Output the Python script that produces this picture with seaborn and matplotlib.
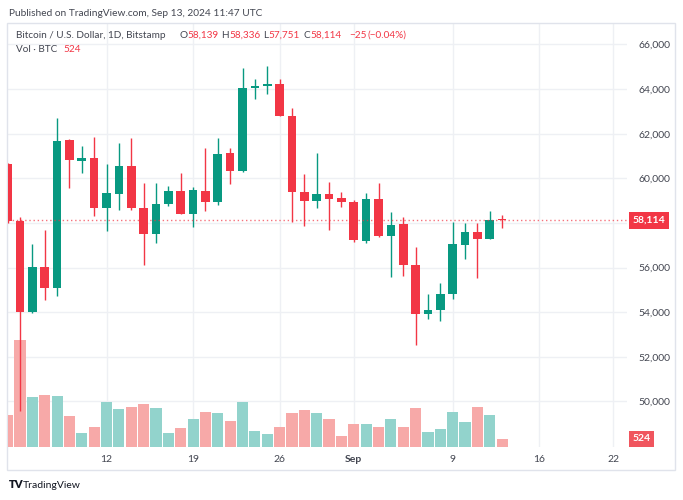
import numpy as np
import pandas as pd
import matplotlib.pyplot as plt
import seaborn as sns
from matplotlib.patches import Rectangle
from matplotlib.ticker import FuncFormatter

# daily BTC/USD candles (Bitstamp), Aug 4 - Sep 13 2024
dates = pd.date_range("2024-08-04", "2024-09-13", freq="D")
opens = [60650, 58100, 53990, 56030, 55080, 61700, 60780, 60920, 58660, 59300,
         60570, 58660, 57500, 58840, 59430, 58390, 59430, 58950, 61130, 60330,
         64060, 64120, 64230, 62780, 59390, 59000, 59310, 59100, 58920, 57190,
         59080, 57430, 57950, 56110, 53900, 54090, 54800, 57010, 57610, 57260,
         58139]
highs = [60700, 58250, 57050, 57680, 62690, 61750, 61450, 61840, 60640, 61570,
         61790, 59800, 59800, 59650, 60220, 59590, 61370, 61790, 61370, 64950,
         64450, 65050, 64450, 63170, 60180, 61130, 59830, 59390, 59010, 59350,
         59780, 58480, 58250, 56930, 54800, 55290, 58040, 58010, 57980, 58520,
         58336]
lows = [58000, 49550, 53950, 54540, 54740, 59570, 60250, 58310, 57650, 58580,
        58580, 56110, 57090, 58770, 58380, 57830, 58550, 58800, 59740, 60300,
        63560, 63790, 62790, 58050, 57850, 58680, 57680, 58730, 57160, 57110,
        57380, 55590, 55630, 52530, 53690, 53620, 54570, 56370, 55520, 57260,
        57751]
closes = [58100, 53990, 56030, 55080, 61690, 60840, 60920, 58660, 59320, 60570,
          58660, 57500, 58850, 59430, 58390, 59460, 58950, 61100, 60330, 64040,
          64160, 64220, 62790, 59370, 59000, 59310, 59070, 58920, 57230, 59080,
          57430, 57910, 56110, 53900, 54090, 54830, 57040, 57610, 57260, 58139,
          58114]
volumes = [2096, 6989, 3255, 3406, 3321, 1985, 917, 1310, 2902, 2469,
           2574, 2797, 2535, 871, 1245, 1788, 2247, 2181, 1690, 2948,
           1028, 852, 1290, 2181, 2404, 2181, 1788, 675, 1461, 1461,
           1290, 1788, 1290, 2509, 963, 1133, 2293, 1638, 2574, 2076,
           524]

price_ticks = [50000, 52000, 54000, 56000, 58000, 60000, 62000, 64000, 66000]
tick_dates = ["2024-08-12", "2024-08-19", "2024-08-26", "2024-09-01",
              "2024-09-09", "2024-09-16", "2024-09-22"]
tick_labels = ["12", "19", "26", "Sep", "9", "16", "22"]

UP, DOWN = "#089981", "#f23645"
UP_VOL, DOWN_VOL = "#92d3cc", "#f7a9a8"
TXT = "#434651"

df = pd.DataFrame({"date": dates, "open": opens, "high": highs,
                   "low": lows, "close": closes, "volume": volumes})
df["day"] = (df["date"] - dates[0]).dt.days
df["dir"] = np.where(df["close"] >= df["open"], "up", "down")
colors = np.where(df["dir"] == "up", UP, DOWN)

sns.set_theme(style="white")
plt.rcParams["font.family"] = ["Lato", "DejaVu Sans"]

W, H = 683, 500
fig = plt.figure(figsize=(W / 100, H / 100), dpi=100)
renderer = fig.canvas.get_renderer()

def px(x, y):
    return x / W, 1 - y / H

rect = [8 / W, 1 - 446.7 / H, (627 - 8) / W, (446.7 - 23.3) / H]
ax = fig.add_axes(rect, zorder=0)
ax_vol = fig.add_axes(rect, zorder=1, sharex=ax)
ax_c = fig.add_axes(rect, zorder=2, sharex=ax, sharey=ax)

# volume bars
sns.barplot(data=df, x="day", y="volume", hue="dir",
            palette={"up": UP_VOL, "down": DOWN_VOL}, native_scale=True,
            width=0.9, dodge=False, errorbar=None, legend=False,
            saturation=1, linewidth=0, ax=ax_vol)
ax_vol.set_ylim(0, 27700)
ax_vol.axis("off")

# candles
body_lo = np.minimum(df["open"], df["close"])
body_h = np.maximum((df["close"] - df["open"]).abs(), 40)
ax_c.vlines(df["day"], df["low"], df["high"], colors=colors, lw=1)
ax_c.bar(df["day"], body_h, bottom=body_lo, width=0.7, color=colors, lw=0)
ax_c.axhline(closes[-1], color=DOWN, ls=(0, (1, 2)), lw=1, alpha=0.7)
ax_c.axis("off")

ax.set_xlim(0.03, 50.1)
ax.set_ylim(47965, 66950)
for s in ax.spines.values():
    s.set_visible(False)
ax.set_yticks(price_ticks)
ax.yaxis.tick_right()
# the last-price tag covers the tick label next to it
ax.yaxis.set_major_formatter(FuncFormatter(
    lambda v, _: "" if abs(v - closes[-1]) < 600 else f"{v:,.0f}"))
xt = [(pd.Timestamp(d) - dates[0]).days for d in tick_dates]
ax.set_xticks(xt)
ax.set_xticklabels(tick_labels)
ax.tick_params(axis="y", length=0, pad=8, labelsize=7.5, labelcolor=TXT)
ax.tick_params(axis="x", length=0, pad=6, labelsize=7.5, labelcolor=TXT)
for lbl in ax.get_xticklabels():
    if lbl.get_text() == "Sep":
        lbl.set_fontweight("bold")
ax.grid(True, color="#eef0f4", lw=1)
ax.set_xlabel("")
ax.set_ylabel("")

# last price / volume labels on the scale
ax_c.annotate(f"{closes[-1]:,}", xy=(1.0, closes[-1]),
              xycoords=("axes fraction", "data"), xytext=(4, 0),
              textcoords="offset points", ha="left", va="center",
              color="white", fontsize=7.5, fontweight="bold",
              bbox=dict(boxstyle="square,pad=0.35", fc=DOWN, ec="none"),
              annotation_clip=False)
ax_vol.annotate(f"{volumes[-1]}", xy=(1.0, volumes[-1]),
                xycoords=("axes fraction", "data"), xytext=(4, 0),
                textcoords="offset points", ha="left", va="center",
                color="white", fontsize=7.5, fontweight="bold",
                bbox=dict(boxstyle="square,pad=0.35", fc="#f0555e", ec="none"),
                annotation_clip=False)

# frame round the chart
fig.add_artist(Rectangle(px(7, 470), (675 - 7) / W, (470 - 23) / H,
                         transform=fig.transFigure, fill=False,
                         ec="#e0e3eb", lw=1))

# header texts
fs = 7.2
fig.text(*px(9, 13), "Published on TradingView.com, Sep 13, 2024 11:47 UTC",
         fontsize=7.3, color=TXT, va="center")
fig.text(*px(15.5, 35), "Bitcoin / U.S. Dollar, 1D, Bitstamp",
         fontsize=fs, color=TXT, va="center")
o, h, l, c = opens[-1], highs[-1], lows[-1], closes[-1]
chg = c - closes[-2]
groups = [(179, "O", f"{o:,}"), (221, "H", f"{h:,}"),
          (263, "L", f"{l:,}"), (303, "C", f"{c:,}"),
          (349, "", f"\u2212{abs(chg)}"),
          (367, "", f"(\u2212{abs(chg) / closes[-2] * 100:.2f}%)")]
for x, key, val in groups:
    if key:
        t = fig.text(*px(x, 35), key, fontsize=fs, color=TXT, va="center")
        x = t.get_window_extent(renderer).x1 + 0.5
    fig.text(*px(x, 35), val, fontsize=fs, color=DOWN, va="center")
fig.text(*px(15.5, 50), "Vol \u00b7 BTC", fontsize=fs, color=TXT, va="center")
fig.text(*px(63, 50), f"{volumes[-1]}", fontsize=fs, color=DOWN, va="center")

# footer logo
fig.text(*px(8.5, 485), "TV", fontsize=8, fontweight="heavy",
         color="#131722", va="center")
fig.text(*px(23, 485), "TradingView", fontsize=7.5, color="#131722",
         va="center")

fig.savefig("out.png", dpi=100)
